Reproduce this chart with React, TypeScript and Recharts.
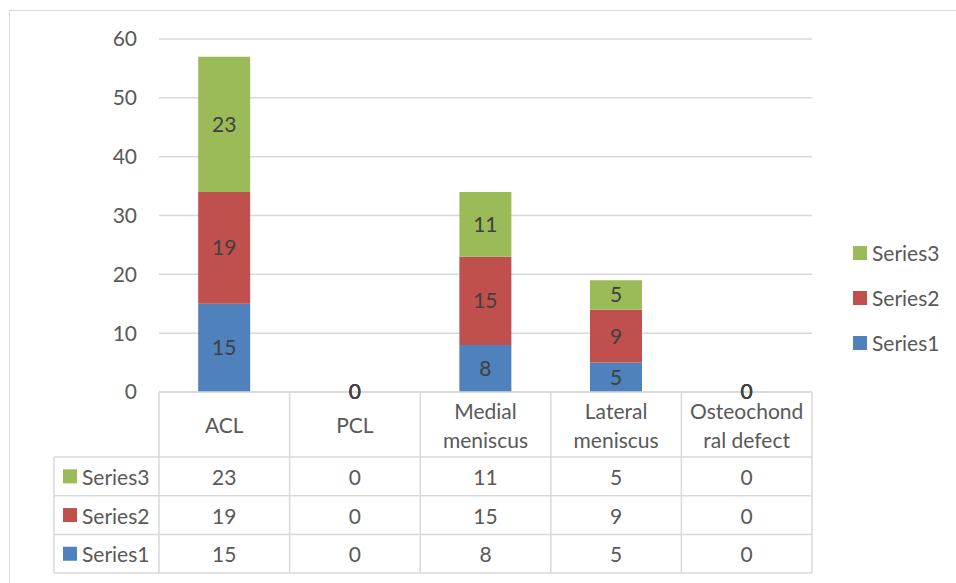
import { BarChart, Bar, XAxis, YAxis, CartesianGrid, LabelList, Legend } from "recharts";

const categories = ["ACL", "PCL", "Medial\nmeniscus", "Lateral\nmeniscus", "Osteochond\nral defect"];
const series1 = [15, 0, 8, 5, 0];
const series2 = [19, 0, 15, 9, 0];
const series3 = [23, 0, 11, 5, 0];
const yTicks = [0, 10, 20, 30, 40, 50, 60];

const seriesList = [
  { key: "series1", name: "Series1", color: "#4f81bd" },
  { key: "series2", name: "Series2", color: "#c0504d" },
  { key: "series3", name: "Series3", color: "#9bbb59" },
];

const data = categories.map((name, i) => ({
  name,
  series1: series1[i],
  series2: series2[i],
  series3: series3[i],
}));

const FONT = "Lato, 'Open Sans', sans-serif";
const TEXT = "#595959";
const GRID = "#d9d9d9";
const HEADER_H = 65;
const ROW_H = 38.7;
const LABEL_COL_W = 105;

// table rows are listed top-down, the reverse of the stack order
const tableRows = [...seriesList].reverse();

// zero-valued segments still need a rect so their "0" label is drawn
const keepZero = (value: any) => (Number(value) === 0 ? 0.01 : 0);

function TableTick(props: any) {
  const { x, y, payload } = props;
  const i = payload.index;
  const half = payload.offset || 65.3;
  const left = x - half;
  const right = x + half;
  const bottom = y + HEADER_H + ROW_H * tableRows.length;
  const lines = String(payload.value).split("\n");
  const rowTops = tableRows.map((_, r) => y + HEADER_H + ROW_H * r);

  return (
    <g fontFamily={FONT} fontSize={21} fill={TEXT}>
      {/* category header cell */}
      {lines.map((line, k) => (
        <text
          key={k}
          x={x}
          y={y + HEADER_H / 2 + (k - (lines.length - 1) / 2) * 29}
          textAnchor="middle"
          dominantBaseline="central"
          fill={TEXT}
        >
          {line}
        </text>
      ))}
      {i === 0 && <line x1={left} x2={left} y1={y} y2={bottom} stroke={GRID} strokeWidth={1.5} />}
      <line x1={right} x2={right} y1={y} y2={bottom} stroke={GRID} strokeWidth={1.5} />
      {rowTops.map((top) => (
        <line key={top} x1={left} x2={right} y1={top} y2={top} stroke={GRID} strokeWidth={1.5} />
      ))}
      <line x1={left} x2={right} y1={bottom} y2={bottom} stroke={GRID} strokeWidth={1.5} />
      {tableRows.map((s, r) => (
        <text
          key={s.key}
          x={x}
          y={rowTops[r] + ROW_H / 2}
          textAnchor="middle"
          dominantBaseline="central"
          fill={TEXT}
        >
          {(data[i] as any)[s.key]}
        </text>
      ))}

      {/* series name column, drawn once with the first category */}
      {i === 0 && (
        <g>
          <line x1={left - LABEL_COL_W} x2={left - LABEL_COL_W} y1={rowTops[0]} y2={bottom} stroke={GRID} strokeWidth={1.5} />
          {[...rowTops, bottom].map((top) => (
            <line key={top} x1={left - LABEL_COL_W} x2={left} y1={top} y2={top} stroke={GRID} strokeWidth={1.5} />
          ))}
          {tableRows.map((s, r) => (
            <g key={s.key}>
              <rect x={left - LABEL_COL_W + 9} y={rowTops[r] + ROW_H / 2 - 7} width={14} height={14} fill={s.color} />
              <text
                x={left - LABEL_COL_W + 28}
                y={rowTops[r] + ROW_H / 2}
                dominantBaseline="central"
                fill={TEXT}
              >
                {s.name}
              </text>
            </g>
          ))}
        </g>
      )}
    </g>
  );
}

function SideLegend({ payload }: any) {
  const items = [...(payload || [])].reverse();
  return (
    <div style={{ fontFamily: FONT, fontSize: 21, color: TEXT }}>
      {items.map((item: any) => (
        <div key={item.value} style={{ display: "flex", alignItems: "center", height: 45 }}>
          <span style={{ width: 14, height: 14, background: item.color, marginRight: 5, display: "inline-block" }} />
          <span>{item.value}</span>
        </div>
      ))}
    </div>
  );
}

export default function App() {
  return (
    <div
      style={{
        position: "absolute",
        left: 0,
        top: 0,
        width: 956,
        height: 583,
        overflow: "hidden",
        background: "#fff",
        fontFamily: FONT,
      }}
    >
      <div
        style={{
          position: "absolute",
          left: 9,
          top: 10,
          width: 980,
          height: 600,
          border: `1.5px solid ${GRID}`,
        }}
      />
      <BarChart
        width={956}
        height={583}
        data={data}
        margin={{ top: 39, right: 144, bottom: 0, left: 0 }}
        barCategoryGap="30%"
      >
        <CartesianGrid vertical={false} stroke={GRID} strokeWidth={1.5} />
        <XAxis
          dataKey="name"
          height={191}
          interval={0}
          tickLine={false}
          tickSize={0}
          tickMargin={0}
          axisLine={{ stroke: GRID, strokeWidth: 1.5 }}
          tick={<TableTick />}
        />
        <YAxis
          width={159}
          domain={[0, 60]}
          ticks={yTicks}
          axisLine={false}
          tickLine={false}
          tickSize={0}
          tickMargin={22}
          tick={{ fill: TEXT, fontSize: 21, fontFamily: FONT }}
        />
        <Legend
          layout="horizontal"
          align="center"
          verticalAlign="middle"
          wrapperStyle={{ left: 853, top: 230, width: 100 }}
          content={<SideLegend />}
        />
        {seriesList.map((s) => (
          <Bar
            key={s.key}
            dataKey={s.key}
            name={s.name}
            stackId="a"
            fill={s.color}
            minPointSize={keepZero}
            isAnimationActive={false}
          >
            <LabelList dataKey={s.key} position="center" fill="#404040" fontSize={21} fontFamily={FONT} />
          </Bar>
        ))}
      </BarChart>
    </div>
  );
}
